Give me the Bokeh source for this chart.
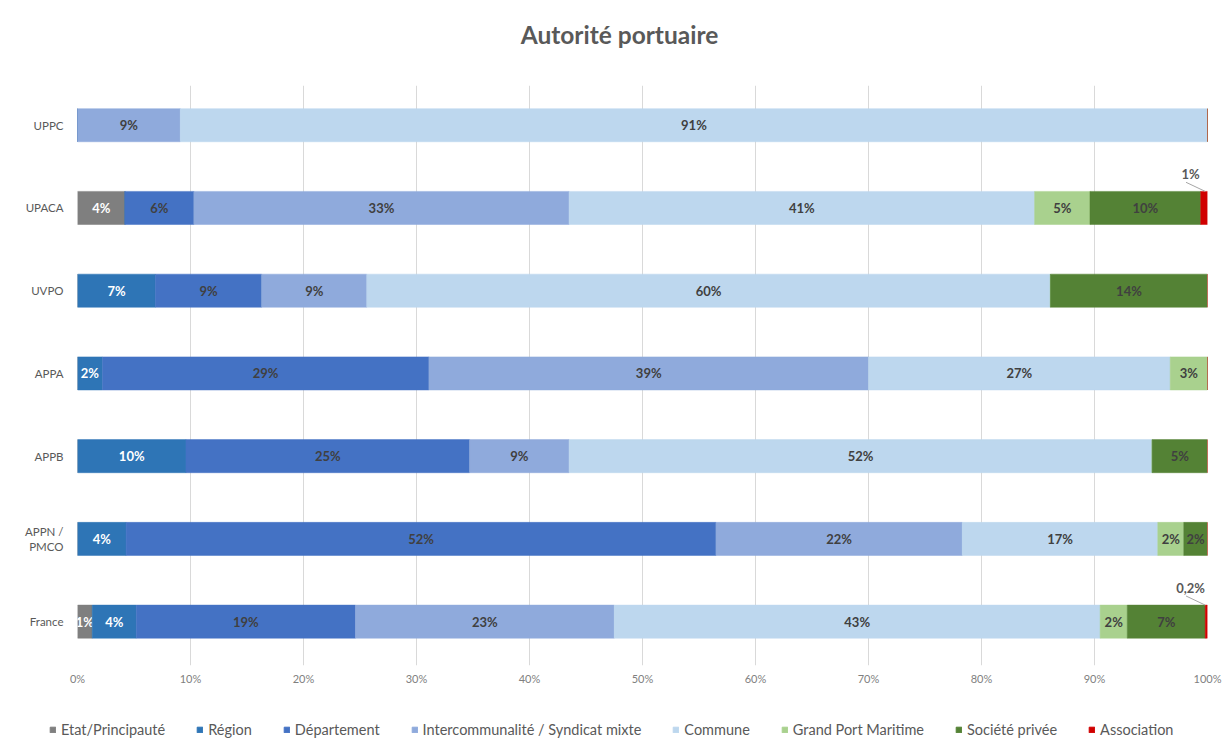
from bokeh.plotting import figure
from bokeh.models import (Range1d, FixedTicker, PrintfTickFormatter, Legend, LegendItem,
                          ColumnDataSource, Label)
from bokeh.embed import file_html
from bokeh.resources import INLINE
from bokeh.core.properties import value

title_text = "Autorité portuaire"
categories = ["UPPC", "UPACA", "UVPO", "APPA", "APPB", "APPN /\nPMCO", "France"]
series_names = ["Etat/Principauté", "Région", "Département",
                "Intercommunalité / Syndicat mixte", "Commune",
                "Grand Port Maritime", "Société privée", "Association"]
etat = [0, 4.2, 0, 0, 0, 0, 1.3]
region = [0, 0, 6.9, 2.2, 9.6, 4.3, 3.9]
departement = [0, 6.1, 9.4, 28.9, 25.1, 52.2, 19.4]
intercommunalite = [9.1, 33.2, 9.3, 38.9, 8.8, 21.8, 22.9]
commune = [90.9, 41.2, 60.5, 26.7, 51.6, 17.3, 43.0]
grand_port = [0, 4.9, 0, 3.3, 0, 2.3, 2.4]
societe = [0, 9.8, 13.9, 0, 4.9, 2.1, 6.9]
association = [0, 0.6, 0, 0, 0, 0, 0.2]

series_values = [etat, region, departement, intercommunalite, commune,
                 grand_port, societe, association]
colors = ["#7f7f7f", "#2e75b6", "#4472c4", "#8faadc", "#bdd7ee",
          "#a9d18e", "#548235", "#d00000"]
label_colors = ["#ffffff", "#ffffff", "#404040", "#404040", "#404040",
                "#404040", "#404040", "#404040"]

FONT = "Lato"
n = len(categories)
ypos = [n - 1 - i for i in range(n)]

# ---- title strip ----
tf = figure(width=1229, height=60, output_backend="svg", toolbar_location=None,
            x_range=Range1d(0, 1), y_range=Range1d(0, 1), min_border=0,
            x_axis_location=None, y_axis_location=None)
tf.grid.visible = False
tf.outline_line_color = None
tf.border_fill_color = "white"
tf.add_layout(Label(x=619, y=26, x_units="screen", y_units="screen", text=title_text,
                    text_align="center", text_baseline="middle", text_font=FONT,
                    text_font_size="24.5px", text_font_style="bold", text_color="#595959"))

# ---- main chart ----
p = figure(width=1229, height=640, output_backend="svg", toolbar_location=None,
           x_range=Range1d(0, 100), y_range=Range1d(-0.53, 6.48),
           min_border_left=77, min_border_right=22, min_border_top=25,
           min_border_bottom=35)
p.outline_line_color = None
p.background_fill_color = "white"
p.border_fill_color = "white"

left_acc = [0.0] * n
for si, (name, vals, col) in enumerate(zip(series_names, series_values, colors)):
    lefts = list(left_acc)
    rights = [l + v for l, v in zip(lefts, vals)]
    src = ColumnDataSource(dict(y=ypos, left=lefts, right=rights))
    p.hbar(y="y", left="left", right="right", height=0.4, source=src,
           fill_color=col, line_color=col, line_width=0.5)
    if name != "Association":
        lx, ly, lt = [], [], []
        for i, v in enumerate(vals):
            if v > 0:
                lx.append(lefts[i] + v / 2)
                ly.append(ypos[i])
                lt.append(f"{round(v)}%")
        p.text(x=lx, y=ly, text=lt, text_align="center", text_baseline="middle",
               text_font=value(FONT), text_font_size="13px", text_font_style="bold",
               text_color=label_colors[si])
    else:
        lx, ly, lt, sx0, sy0, sx1, sy1 = [], [], [], [], [], [], []
        for i, v in enumerate(vals):
            if v > 0:
                end = rights[i]
                lx.append(end - 1.5)
                ly.append(ypos[i] + 0.41)
                lt.append(f"{round(v)}%" if v >= 0.5 else f"{v:.1f}".replace(".", ",") + "%")
                sx0.append(end - 1.9)
                sy0.append(ypos[i] + 0.31)
                sx1.append(end - 0.2)
                sy1.append(ypos[i] + 0.2)
        p.segment(x0=sx0, y0=sy0, x1=sx1, y1=sy1, line_color="#a6a6a6", line_width=1)
        p.text(x=lx, y=ly, text=lt, text_align="center", text_baseline="middle",
               text_font=value(FONT), text_font_size="13px", text_font_style="bold",
               text_color="#595959")
    left_acc = rights

p.xaxis.ticker = FixedTicker(ticks=list(range(0, 101, 10)))
p.xaxis.formatter = PrintfTickFormatter(format="%d%%")
p.xaxis.axis_line_color = None
p.xaxis.major_tick_line_color = None
p.xaxis.minor_tick_line_color = None
p.xaxis.major_tick_out = 0
p.xaxis.major_tick_in = 0
p.xaxis.major_label_text_font = FONT
p.xaxis.major_label_text_font_size = "11px"
p.xaxis.major_label_text_color = "#7f7f7f"
p.xaxis.major_label_standoff = 6

p.yaxis.ticker = FixedTicker(ticks=ypos)
p.yaxis.major_label_overrides = {y: c for y, c in zip(ypos, categories)}
p.yaxis.axis_line_color = None
p.yaxis.major_tick_line_color = None
p.yaxis.minor_tick_line_color = None
p.yaxis.major_tick_out = 0
p.yaxis.major_tick_in = 0
p.yaxis.major_label_text_font = FONT
p.yaxis.major_label_text_font_size = "11.5px"
p.yaxis.major_label_text_color = "#595959"
p.yaxis.major_label_standoff = 14

p.xgrid.grid_line_color = "#d9d9d9"
p.ygrid.grid_line_color = None

# ---- legend strip (swatch glyphs lie outside the visible range) ----
lg = figure(width=1229, height=42, output_backend="svg", toolbar_location=None,
            x_range=Range1d(0, 1), y_range=Range1d(0, 1), min_border=0,
            x_axis_location=None, y_axis_location=None)
lg.grid.visible = False
lg.outline_line_color = None
lg.border_fill_color = "white"
items = []
for name, col in zip(series_names, colors):
    r = lg.hbar(y=[-5], left=[0], right=[1], height=0.4, fill_color=col, line_color=col)
    items.append(LegendItem(label=name, renderers=[r]))
legend = Legend(items=items, orientation="horizontal", location=(49, 4))
legend.label_text_font = FONT
legend.label_text_font_size = "14.5px"
legend.label_text_color = "#595959"
legend.glyph_width = 7
legend.glyph_height = 7
legend.label_standoff = 5
legend.spacing = 31
legend.border_line_color = None
legend.background_fill_alpha = 0
legend.padding = 0
legend.margin = 0
lg.add_layout(legend, "center")

open("out.html", "w").write(file_html([tf, p, lg], INLINE))
